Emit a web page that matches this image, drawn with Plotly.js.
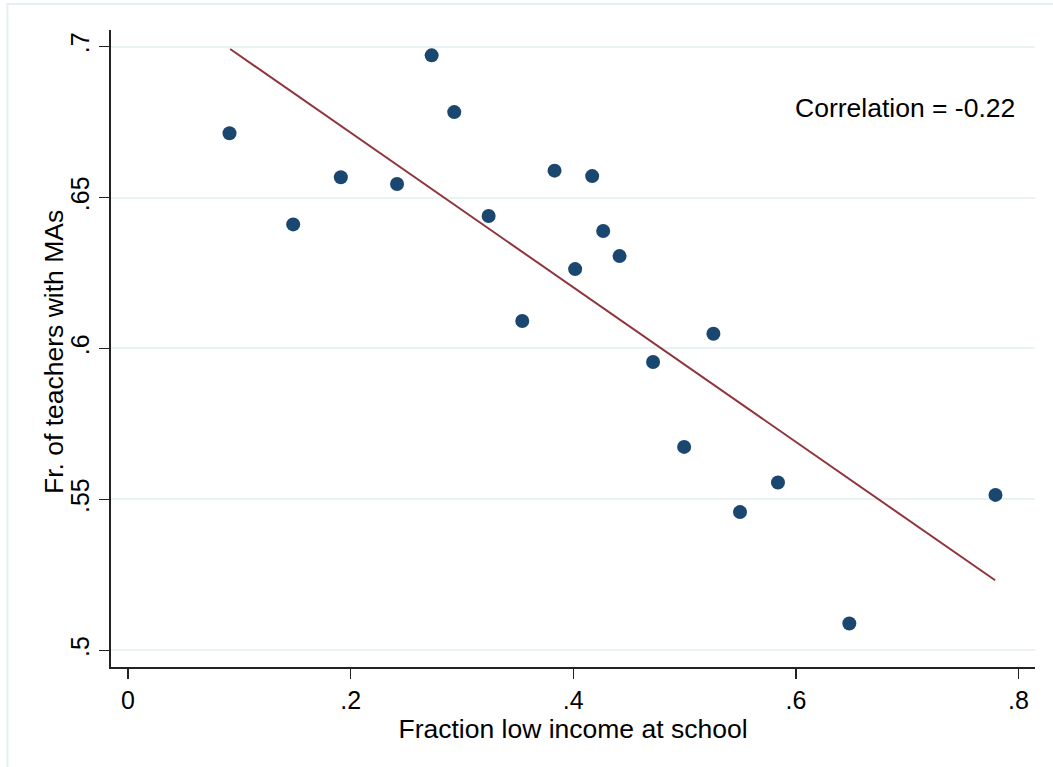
<!DOCTYPE html>
<html>
<head>
<meta charset="utf-8">
<script src="https://cdn.plot.ly/plotly-3.0.1.min.js"></script>
<style>html,body{margin:0;padding:0;background:#fff;}#chart{width:1053px;height:767px;}</style>
</head>
<body>
<div id="chart"></div>
<script>
// Fraction low income at school (x) vs fraction of teachers with MAs (y)
const fracLowIncome = [0.0912, 0.1484, 0.1912, 0.2417, 0.2728, 0.2931, 0.3240, 0.3542, 0.3832, 0.4017,
                       0.4170, 0.4269, 0.4416, 0.4717, 0.4996, 0.5259, 0.5498, 0.5839, 0.6480, 0.7793];
const fracMA = [0.6713, 0.6411, 0.6567, 0.6545, 0.6971, 0.6783, 0.6439, 0.6091, 0.6589, 0.6263,
                0.6571, 0.6389, 0.6306, 0.5955, 0.5674, 0.6049, 0.5458, 0.5556, 0.5089, 0.5515];
// fitted line endpoints
const fitX = [0.0918, 0.7790];
const fitY = [0.6992, 0.5232];
const xTickVals = [0, 0.2, 0.4, 0.6, 0.8];
const xTickText = ['0', '.2', '.4', '.6', '.8'];
const yTickVals = [0.5, 0.55, 0.6, 0.65, 0.7];
const yTickText = ['.5', '.55', '.6', '.65', '.7'];
const xTitle = 'Fraction low income at school';
const yTitle = 'Fr. of teachers with MAs';
const corrLabel = 'Correlation = -0.22';

const FONT = '"Liberation Sans", Arial, Helvetica, sans-serif';

const traces = [
  {
    type: 'scatter', mode: 'markers',
    x: fracLowIncome, y: fracMA,
    marker: {color: '#1a476f', size: 14, line: {width: 0}},
    hoverinfo: 'skip', showlegend: false
  },
  {
    type: 'scatter', mode: 'lines',
    x: fitX, y: fitY,
    line: {color: '#90353b', width: 2},
    hoverinfo: 'skip', showlegend: false
  }
];

const layout = {
  width: 1053, height: 767,
  paper_bgcolor: '#ffffff', plot_bgcolor: '#ffffff',
  margin: {l: 110.7, r: 17.5, t: 30, b: 100.3, pad: 0},
  font: {family: FONT, color: '#000000', size: 25},
  showlegend: false,
  xaxis: {
    range: [-0.01526, 0.8148],
    tickmode: 'array', tickvals: xTickVals, ticktext: xTickText,
    ticks: 'outside', ticklen: 10, tickwidth: 1.5, tickcolor: '#222222',
    showline: true, linecolor: '#222222', linewidth: 1.8,
    showgrid: false, zeroline: false,
    tickfont: {family: FONT, size: 25, color: '#000000'},
    title: {text: xTitle, font: {family: FONT, size: 26.5, color: '#000000'}, standoff: 0},
    automargin: false
  },
  yaxis: {
    range: [0.49448, 0.7055],
    tickmode: 'array', tickvals: yTickVals, ticktext: yTickText,
    tickangle: -90,
    ticks: 'outside', ticklen: 10, tickwidth: 1.5, tickcolor: '#222222',
    showline: true, linecolor: '#222222', linewidth: 1.8,
    showgrid: true, gridcolor: '#eaf2f3', gridwidth: 2,
    zeroline: false,
    tickfont: {family: FONT, size: 25, color: '#000000'},
    automargin: false
  },
  annotations: [
    {
      xref: 'x', yref: 'y', x: 0.799, y: 0.6797,
      text: corrLabel, showarrow: false,
      xanchor: 'right', yanchor: 'middle',
      font: {family: FONT, size: 26.5, color: '#000000'}
    },
    {
      xref: 'paper', yref: 'paper', x: -0.0624, y: 0.495,
      text: yTitle, showarrow: false, textangle: -90,
      xanchor: 'center', yanchor: 'middle',
      font: {family: FONT, size: 26.5, color: '#000000'}
    }
  ],
  shapes: [
    {
      type: 'rect', xref: 'paper', yref: 'paper', layer: 'below',
      x0: -0.1121, x1: 1.05, y0: -0.2, y1: 1.0408,
      line: {color: '#e6eff1', width: 2}, fillcolor: 'rgba(0,0,0,0)'
    }
  ]
};

Plotly.newPlot('chart', traces, layout, {displayModeBar: false, staticPlot: true});
</script>
</body>
</html>
